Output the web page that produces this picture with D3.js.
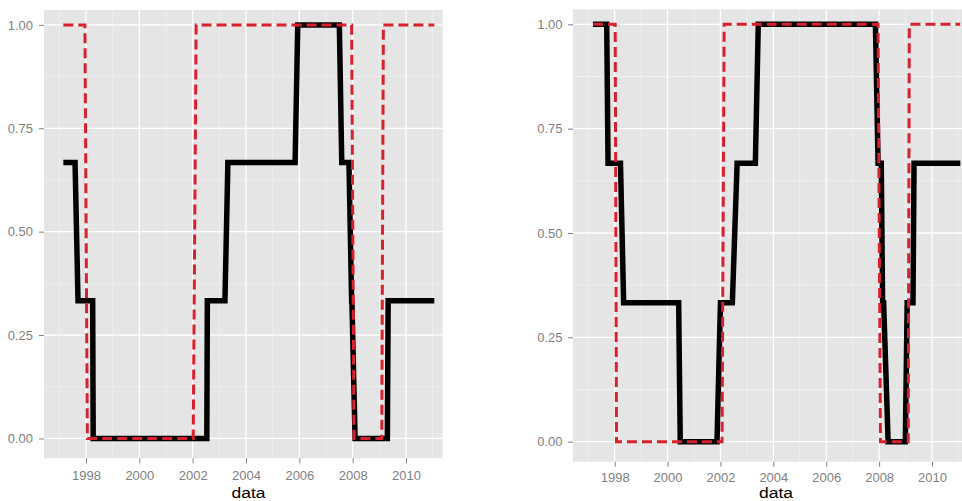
<!DOCTYPE html>
<html>
<head>
<meta charset="utf-8">
<script src="https://cdn.jsdelivr.net/npm/d3@7"></script>
<style>
  html, body { margin: 0; padding: 0; background: #ffffff; }
  svg { display: block; }
</style>
</head>
<body>
<svg id="chart" width="962" height="501"></svg>
<script>
// ---------- data ----------
const xTicks = [1998, 2000, 2002, 2004, 2006, 2008, 2010];
const xMinorTicks = [1997, 1999, 2001, 2003, 2005, 2007, 2009, 2011];
const yTicks = [0, 0.25, 0.5, 0.75, 1];
const yMinorTicks = [0.125, 0.375, 0.625, 0.875];
const xTitle = "data";

// left panel, black (solid) series
const leftBlackDates  = [1997.15, 1997.59, 1997.70, 1998.25, 1998.27, 2002.53, 2002.55, 2003.21, 2003.32, 2005.84, 2005.94, 2007.50, 2007.59, 2007.86, 2007.96, 2007.97, 2008.09, 2009.30, 2009.33, 2011.06];
const leftBlackValues = [0.667, 0.667, 0.333, 0.333, 0, 0, 0.333, 0.333, 0.667, 0.667, 1, 1, 0.667, 0.667, 0.333, 0.333, 0, 0, 0.333, 0.333];
// left panel, red (dashed) series
const leftRedDates  = [1997.15, 1997.96, 1998.05, 2002.02, 2002.13, 2007.96, 2008.05, 2009.09, 2009.15, 2011.06];
const leftRedValues = [1, 1, 0, 0, 1, 1, 0, 0, 1, 1];

// right panel, black (solid) series
const rightBlackDates  = [1997.18, 1997.70, 1997.75, 1998.22, 1998.34, 2000.42, 2000.48, 2001.87, 2002.00, 2002.45, 2002.63, 2003.32, 2003.43, 2007.86, 2007.96, 2008.08, 2008.13, 2008.17, 2008.34, 2008.99, 2009.06, 2009.28, 2009.32, 2011.07];
const rightBlackValues = [1, 1, 0.667, 0.667, 0.333, 0.333, 0, 0, 0.333, 0.333, 0.667, 0.667, 1, 1, 0.667, 0.667, 0.333, 0.333, 0, 0, 0.333, 0.333, 0.667, 0.667];
// right panel, red (dashed) series
const rightRedDates  = [1997.18, 1998.02, 1998.07, 2002.06, 2002.14, 2007.96, 2008.05, 2009.10, 2009.14, 2011.07];
const rightRedValues = [1, 1, 0, 0, 1, 1, 0, 0, 1, 1];

// ---------- layout ----------
const xDomain = [1996.425, 2011.375];
const yDomain = [-0.048, 1.036];
const panels = [
  { left: 44,  right: 442.7, top: 10,  bottom: 458.3, titleX: 248.5, titleY: 498, xPad: 7.5,
    black: leftBlackDates.map((d, i) => [d, leftBlackValues[i]]),
    red: leftRedDates.map((d, i) => [d, leftRedValues[i]]), yPad: 6 },
  { left: 573, right: 968.4, top: 9.3, bottom: 461.7, titleX: 776, titleY: 497.6, xPad: 6,
    black: rightBlackDates.map((d, i) => [d, rightBlackValues[i]]),
    red: rightRedDates.map((d, i) => [d, rightRedValues[i]]), yPad: 5.5 }
];

const svg = d3.select("#chart");
const FONT = "'Liberation Sans', Arial, Helvetica, sans-serif";
const TICK_COLOR = "#7f7f7f";

panels.forEach((p, idx) => {
  const x = d3.scaleLinear().domain(xDomain).range([p.left, p.right]);
  const y = d3.scaleLinear().domain(yDomain).range([p.bottom, p.top]);

  const clipId = "clip" + idx;
  svg.append("clipPath").attr("id", clipId)
    .append("rect")
    .attr("x", p.left).attr("y", p.top)
    .attr("width", p.right - p.left).attr("height", p.bottom - p.top);

  const g = svg.append("g");

  // panel background
  g.append("rect")
    .attr("x", p.left).attr("y", p.top)
    .attr("width", p.right - p.left).attr("height", p.bottom - p.top)
    .attr("fill", "#e5e5e5");

  const grid = g.append("g").attr("clip-path", `url(#${clipId})`);
  // minor grid
  grid.selectAll(".vminor").data(xMinorTicks).join("line")
    .attr("x1", d => x(d)).attr("x2", d => x(d))
    .attr("y1", p.top).attr("y2", p.bottom)
    .attr("stroke", "#f2f2f2").attr("stroke-width", 0.7);
  grid.selectAll(".hminor").data(yMinorTicks).join("line")
    .attr("x1", p.left).attr("x2", p.right)
    .attr("y1", d => y(d)).attr("y2", d => y(d))
    .attr("stroke", "#f2f2f2").attr("stroke-width", 0.7);
  // major grid
  grid.selectAll(".vmajor").data(xTicks).join("line")
    .attr("x1", d => x(d)).attr("x2", d => x(d))
    .attr("y1", p.top).attr("y2", p.bottom)
    .attr("stroke", "#ffffff").attr("stroke-width", 1.3);
  grid.selectAll(".hmajor").data(yTicks).join("line")
    .attr("x1", p.left).attr("x2", p.right)
    .attr("y1", d => y(d)).attr("y2", d => y(d))
    .attr("stroke", "#ffffff").attr("stroke-width", 1.3);

  // lines
  const line = d3.line().x(d => x(d[0])).y(d => y(d[1]));
  const lines = g.append("g").attr("clip-path", `url(#${clipId})`);
  lines.append("path")
    .datum(p.black)
    .attr("d", line)
    .attr("fill", "none")
    .attr("stroke", "#000000")
    .attr("stroke-width", 5.5)
    .attr("stroke-linejoin", "miter")
    .attr("stroke-linecap", "butt");
  lines.append("path")
    .datum(p.red)
    .attr("d", line)
    .attr("fill", "none")
    .attr("stroke", "#d8212f")
    .attr("stroke-width", 3)
    .attr("stroke-dasharray", "10,5")
    .attr("stroke-linecap", "butt");

  // axes
  const xAxis = d3.axisBottom(x)
    .tickValues(xTicks)
    .tickFormat(d3.format("d"))
    .tickSize(5)
    .tickPadding(p.xPad);
  const gx = g.append("g")
    .attr("transform", `translate(0,${p.bottom})`)
    .call(xAxis);
  gx.select(".domain").remove();
  gx.selectAll(".tick line").attr("stroke", TICK_COLOR).attr("stroke-width", 1);
  gx.selectAll(".tick text")
    .attr("fill", TICK_COLOR)
    .style("font-family", FONT)
    .style("font-size", "13px");

  const yAxis = d3.axisLeft(y)
    .tickValues(yTicks)
    .tickFormat(d3.format(".2f"))
    .tickSize(5)
    .tickPadding(p.yPad);
  const gy = g.append("g")
    .attr("transform", `translate(${p.left},0)`)
    .call(yAxis);
  gy.select(".domain").remove();
  gy.selectAll(".tick line").attr("stroke", TICK_COLOR).attr("stroke-width", 1);
  gy.selectAll(".tick text")
    .attr("fill", TICK_COLOR)
    .style("font-family", FONT)
    .style("font-size", "13px");

  // axis title
  g.append("text")
    .attr("x", p.titleX)
    .attr("y", p.titleY)
    .attr("text-anchor", "middle")
    .attr("fill", "#000000")
    .attr("textLength", 34)
    .attr("lengthAdjust", "spacingAndGlyphs")
    .style("font-family", FONT)
    .style("font-size", "15.5px")
    .text(xTitle);
});
</script>
</body>
</html>
